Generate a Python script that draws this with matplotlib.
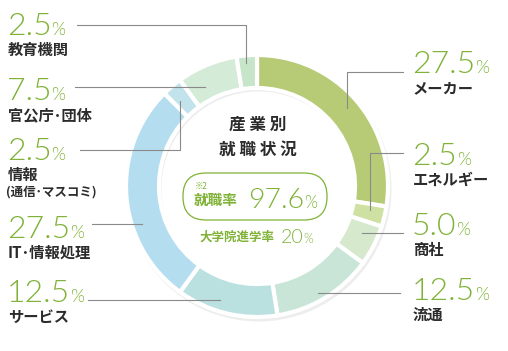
import matplotlib.pyplot as plt
from matplotlib.patches import FancyBboxPatch

plt.rcParams['font.family'] = ['Noto Sans CJK JP', 'DejaVu Sans']

# data, clockwise from 12 o'clock
sectors = ["メーカー", "エネルギー", "商社", "流通", "サービス",
           "IT･情報処理", "情報\n(通信･マスコミ)", "官公庁･団体", "教育機関"]
shares = [27.5, 2.5, 5.0, 12.5, 12.5, 27.5, 2.5, 7.5, 2.5]
colors = ["#b7cb77", "#cfe1a2", "#d6e9cc", "#c9e5d7", "#bae0e0",
          "#b4ddef", "#c2e3ec", "#d4ebd8", "#c6e5c9"]
employment_rate = 97.6
grad_school_rate = 20

GREEN = "#7fb236"
DARK = "#2b2b2b"
LINE = "#8a8a8a"
NUMFONT = dict(family=["Lato", "DejaVu Sans"], fontweight=300, color=GREEN)

# label layout: (x, baseline of number, leader line points)
layout = [
    (412, 73, [(403, 72), (347, 72), (347, 108)]),
    (412, 165, [(403, 153), (370, 153), (370, 210)]),
    (412, 235, [(403, 233), (362, 233)]),
    (412, 300, [(400, 293), (318, 293)]),
    (7, 302, [(88, 300), (220, 300)]),
    (7, 238, [(92, 224), (142, 224)]),
    (7, 160, [(80, 150), (180, 150), (180, 101)]),
    (7, 100, [(75, 87), (205, 87)]),
    (7, 35, [(77, 25), (246, 25), (246, 63)]),
]

fig = plt.figure(figsize=(5.08, 3.51), dpi=100)
ax = fig.add_axes([0, 0, 1, 1])

cx, cy, R, W = 257, 186, 131, 33

# faint shadow under the ring
ax.pie([1], radius=R + 2, center=(cx + 1.5, cy + 2.5), colors=["#000000"],
       wedgeprops=dict(width=W + 3, alpha=0.07, linewidth=0))

ax.pie(shares, colors=colors, startangle=-90, counterclock=True,
       radius=R, center=(cx, cy),
       wedgeprops=dict(width=W, edgecolor="white", linewidth=3))

ax.set_xlim(0, 508)
ax.set_ylim(351, 0)
ax.set_aspect("equal")
ax.axis("off")


def number(x, y, val, size, pct_size, z=3):
    t = ax.text(x, y, val, fontsize=size, ha="left", va="baseline",
                zorder=z, **NUMFONT)
    ax.annotate("%", xy=(1, y), xycoords=(t, "data"), xytext=(0, 0),
                textcoords="offset points", fontsize=pct_size,
                ha="left", va="baseline", zorder=z, **NUMFONT)
    return t


for name, val, (x, y, pts) in zip(sectors, shares, layout):
    xs, ys = zip(*pts)
    ax.plot(xs, ys, color=LINE, lw=0.8, zorder=5)
    number(x, y, f"{val:.1f}", 23, 13)
    lines = name.split("\n")
    ax.text(x + 1, y + 15, lines[0], fontsize=11, color=DARK,
            fontweight="bold", ha="left", va="center")
    if len(lines) > 1:
        ax.text(x - 1, y + 32, lines[1], fontsize=9, color=DARK,
                fontweight="bold", ha="left", va="center")

# centre texts
ax.text(257.5, 125, "産 業 別", fontsize=12, color=DARK, fontweight="bold",
        ha="center", va="center")
ax.text(257.5, 150, "就 職 状 況", fontsize=12, color=DARK, fontweight="bold",
        ha="center", va="center")

box = FancyBboxPatch((183, 173), 144, 47, boxstyle="round,pad=0,rounding_size=23",
                     fc="white", ec=GREEN, lw=0.9, zorder=4)
ax.add_patch(box)
ax.text(195, 186, "※2", fontsize=6, color=GREEN, ha="left", va="center", zorder=6)
ax.text(194, 200, "就職率", fontsize=10.5, color=GREEN, fontweight="bold",
        ha="left", va="center", zorder=6)
number(248, 208, f"{employment_rate}", 20.5, 12, z=6)

ax.text(199, 237, "大学院進学率", fontsize=9, color=GREEN, fontweight="bold",
        ha="left", va="center")
number(281, 243, f"{grad_school_rate}", 14, 9)

fig.savefig("out.png", dpi=100, facecolor="white")
